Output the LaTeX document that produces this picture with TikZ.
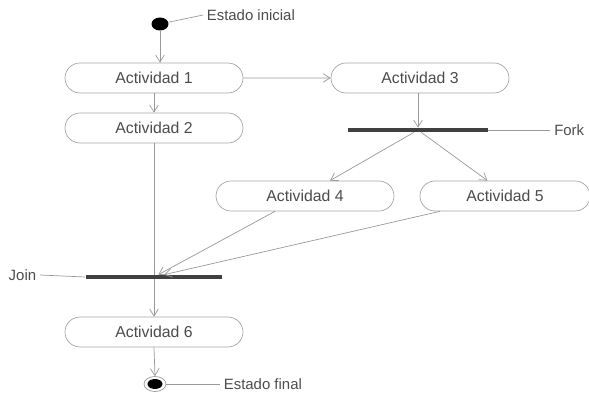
\documentclass[tikz,border=0pt]{standalone}
\usepackage{fontspec}
\setmainfont{Liberation Sans}
\usetikzlibrary{shapes.misc, shapes.geometric, arrows.meta}

\tikzset{
    actividad/.style={rounded rectangle, draw=gray!70, fill=white, minimum width=3.56cm,
        minimum height=0.6cm, inner sep=0pt, text=black!70, font=\small},
    barra/.style={fill=black!75, minimum width=2.8cm, minimum height=0.08cm, inner sep=0pt},
    flujo/.style={gray!80, -{Straight Barb[length=4pt, width=5pt]}},
    nota/.style={gray!80},
    rotulo/.style={text=black!70, font=\fontsize{8.5}{10}\selectfont, inner sep=2pt}
}

\begin{document}
\begin{tikzpicture}[x=0.02cm, y=-0.02cm]
    \useasboundingbox (0,0) rectangle (589,395);

    % estados inicial y final
    \node[ellipse, fill=black, minimum width=0.34cm, minimum height=0.26cm, inner sep=0pt] (ini) at (160,24) {};
    \node[ellipse, draw=gray!80, minimum width=0.44cm, minimum height=0.3cm, inner sep=0pt] (fin) at (155,384) {};
    \fill[black] (fin) ellipse (0.15cm and 0.1cm);

    % actividades
    \node[actividad] (a1) at (154,78) {Actividad 1};
    \node[actividad] (a2) at (154,128) {Actividad 2};
    \node[actividad] (a3) at (420,78) {Actividad 3};
    \node[actividad] (a4) at (305,196) {Actividad 4};
    \node[actividad, minimum width=3.4cm] (a5) at (505,196) {Actividad 5};
    \node[actividad] (a6) at (154,332) {Actividad 6};

    % barras fork / join
    \node[barra] (fork) at (418,130) {};
    \node[barra, minimum width=2.74cm] (join) at (154,277) {};

    % rotulos
    \node[rotulo, anchor=west] (tini) at (203,15) {Estado inicial};
    \node[rotulo, anchor=west] (tfin) at (220,384) {Estado final};
    \node[rotulo, anchor=east] (tfork) at (588,130) {Fork};
    \node[rotulo, anchor=east] (tjoin) at (40,275) {Join};
    \draw[nota] (ini) -- (tini.west);
    \draw[nota] (fin) -- (tfin.west);
    \draw[nota] (fork.east) -- (tfork.west);
    \draw[nota] (tjoin.east) -- (join.west);

    % transiciones
    \draw[flujo] (ini) -- (ini |- a1.north);
    \draw[flujo] (a1) -- (a3);
    \draw[flujo] (a1.south) -- (a2.north);
    \draw[gray!80] (a2.south) -- (join);
    \draw[flujo] (a3.south -| fork) -- (fork);
    \draw[flujo] (fork) -- ([xshift=0.5cm]a4.north);
    \draw[flujo] (fork) -- ([xshift=-0.35cm]a5.north);
    \draw[flujo] ([xshift=-0.6cm]a4.south) -- (join);
    \draw[flujo] ([xshift=-1.3cm]a5.south) -- (join);
    \draw[flujo] (join) -- (a6.north);
    \draw[flujo] (a6.south) -- (fin.north);
\end{tikzpicture}
\end{document}
